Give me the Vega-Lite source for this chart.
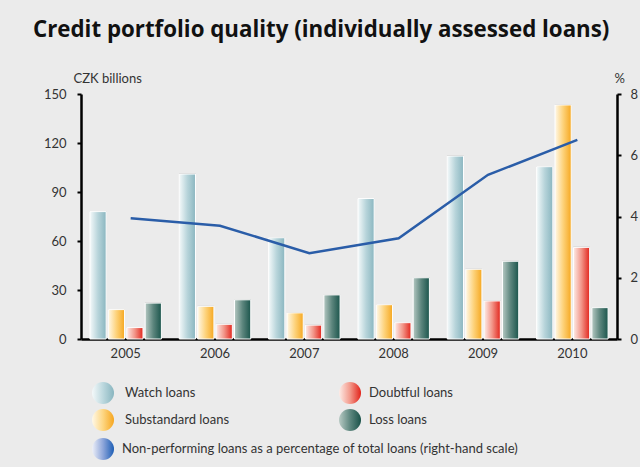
{
  "$schema": "https://vega.github.io/schema/vega-lite/v6.json",
  "width": 536,
  "height": 245,
  "autosize": {"type": "none"},
  "padding": {"left": 81, "top": 94, "right": 23, "bottom": 128},
  "background": "#ebebeb",
  "config": {
    "view": {"stroke": null},
    "font": "Lato",
    "axis": {"labelFont": "Lato", "labelFontSize": 13, "labelColor": "#333333", "titleFont": "Lato", "titleFontSize": 13, "titleFontWeight": "normal", "titleColor": "#333333", "grid": false, "domainColor": "#000000", "domainWidth": 2.5, "tickColor": "#000000", "tickWidth": 2},
    "legend": {"labelFont": "Lato", "labelFontSize": 13, "labelColor": "#333333", "title": null, "orient": "none", "symbolType": "circle", "symbolSize": 484, "symbolStrokeWidth": 0, "labelLimit": 500}
  },
  "title": {
    "text": "Credit portfolio quality (individually assessed loans)",
    "font": "Open Sans",
    "fontSize": 22.3,
    "fontWeight": "bold",
    "color": "#111111",
    "anchor": "start",
    "frame": "group",
    "dx": -48,
    "offset": 31
  },
  "datasets": {
    "bars": [
      {"year": "2005", "series": "Watch loans", "value": 78},
      {"year": "2005", "series": "Substandard loans", "value": 18},
      {"year": "2005", "series": "Doubtful loans", "value": 7},
      {"year": "2005", "series": "Loss loans", "value": 22},
      {"year": "2006", "series": "Watch loans", "value": 101},
      {"year": "2006", "series": "Substandard loans", "value": 20},
      {"year": "2006", "series": "Doubtful loans", "value": 9},
      {"year": "2006", "series": "Loss loans", "value": 24},
      {"year": "2007", "series": "Watch loans", "value": 62},
      {"year": "2007", "series": "Substandard loans", "value": 16},
      {"year": "2007", "series": "Doubtful loans", "value": 8.5},
      {"year": "2007", "series": "Loss loans", "value": 27},
      {"year": "2008", "series": "Watch loans", "value": 86},
      {"year": "2008", "series": "Substandard loans", "value": 21},
      {"year": "2008", "series": "Doubtful loans", "value": 10},
      {"year": "2008", "series": "Loss loans", "value": 37.5},
      {"year": "2009", "series": "Watch loans", "value": 112},
      {"year": "2009", "series": "Substandard loans", "value": 42.7},
      {"year": "2009", "series": "Doubtful loans", "value": 23.3},
      {"year": "2009", "series": "Loss loans", "value": 47.6},
      {"year": "2010", "series": "Watch loans", "value": 105.5},
      {"year": "2010", "series": "Substandard loans", "value": 143.3},
      {"year": "2010", "series": "Doubtful loans", "value": 56.1},
      {"year": "2010", "series": "Loss loans", "value": 19.2}
    ],
    "npl": [
      {"year": "2005", "label": "Non-performing loans as a percentage of total loans (right-hand scale)", "pct": 3.94},
      {"year": "2006", "label": "Non-performing loans as a percentage of total loans (right-hand scale)", "pct": 3.70},
      {"year": "2007", "label": "Non-performing loans as a percentage of total loans (right-hand scale)", "pct": 2.80},
      {"year": "2008", "label": "Non-performing loans as a percentage of total loans (right-hand scale)", "pct": 3.29},
      {"year": "2009", "label": "Non-performing loans as a percentage of total loans (right-hand scale)", "pct": 5.36},
      {"year": "2010", "label": "Non-performing loans as a percentage of total loans (right-hand scale)", "pct": 6.50}
    ]
  },
  "encoding": {
    "x": {
      "field": "year",
      "type": "nominal",
      "scale": {"paddingInner": 0.2, "paddingOuter": 0.1},
      "axis": {"title": null, "labelAngle": 0, "ticks": false, "labelPadding": 8, "domainWidth": 2.5}
    }
  },
  "layer": [
    {
      "data": {"name": "bars"},
      "mark": {"type": "bar", "fill": "#a3a3a3", "xOffset": 1.5, "yOffset": -0.5},
      "encoding": {
        "xOffset": {"field": "series", "type": "nominal", "scale": {"domain": ["Watch loans", "Substandard loans", "Doubtful loans", "Loss loans"], "paddingInner": 0.12}},
        "y": {"field": "value", "type": "quantitative", "scale": {"domain": [0, 150]}, "axis": null}
      }
    },
    {
      "data": {"name": "bars"},
      "transform": [{"filter": "datum.series === 'Watch loans'"}],
      "mark": {"type": "line", "strokeWidth": 0},
      "encoding": {
        "y": {"field": "value", "type": "quantitative", "scale": {"domain": [0, 150]}, "axis": null},
        "stroke": {
          "field": "series", "type": "nominal", "scale": {"range": ["#a9cbd2"]},
          "legend": {"legendX": 11, "legendY": 288, "labelOffset": 11,
            "encode": {"symbols": {"update": {"fill": {"value": {"gradient": "linear", "x1": 0, "y1": 0, "x2": 1, "y2": 0, "stops": [{"offset": 0, "color": "#f4f9fa"}, {"offset": 0.5, "color": "#bcd8de"}, {"offset": 1, "color": "#88b5bf"}]}}}}}}
        }
      }
    },
    {
      "data": {"name": "bars"},
      "transform": [{"filter": "datum.series === 'Doubtful loans'"}],
      "mark": {"type": "line", "strokeWidth": 0},
      "encoding": {
        "y": {"field": "value", "type": "quantitative", "scale": {"domain": [0, 150]}, "axis": null},
        "stroke": {
          "field": "series", "type": "nominal", "scale": {"range": ["#ec6b5e"]},
          "legend": {"legendX": 258, "legendY": 288, "labelOffset": 8,
            "encode": {"symbols": {"update": {"fill": {"value": {"gradient": "linear", "x1": 0, "y1": 0, "x2": 1, "y2": 0, "stops": [{"offset": 0, "color": "#fdece7"}, {"offset": 0.5, "color": "#f39a8c"}, {"offset": 1, "color": "#e2231a"}]}}}}}}
        }
      }
    },
    {
      "data": {"name": "bars"},
      "transform": [{"filter": "datum.series === 'Substandard loans'"}],
      "mark": {"type": "line", "strokeWidth": 0},
      "encoding": {
        "y": {"field": "value", "type": "quantitative", "scale": {"domain": [0, 150]}, "axis": null},
        "stroke": {
          "field": "series", "type": "nominal", "scale": {"range": ["#fbc35a"]},
          "legend": {"legendX": 11, "legendY": 315, "labelOffset": 11,
            "encode": {"symbols": {"update": {"fill": {"value": {"gradient": "linear", "x1": 0, "y1": 0, "x2": 1, "y2": 0, "stops": [{"offset": 0, "color": "#fff8e8"}, {"offset": 0.5, "color": "#fdd682"}, {"offset": 1, "color": "#f6a61f"}]}}}}}}
        }
      }
    },
    {
      "data": {"name": "bars"},
      "transform": [{"filter": "datum.series === 'Loss loans'"}],
      "mark": {"type": "line", "strokeWidth": 0},
      "encoding": {
        "y": {"field": "value", "type": "quantitative", "scale": {"domain": [0, 150]}, "axis": null},
        "stroke": {
          "field": "series", "type": "nominal", "scale": {"range": ["#3f7169"]},
          "legend": {"legendX": 258, "legendY": 315, "labelOffset": 8,
            "encode": {"symbols": {"update": {"fill": {"value": {"gradient": "linear", "x1": 0, "y1": 0, "x2": 1, "y2": 0, "stops": [{"offset": 0, "color": "#b8cac4"}, {"offset": 0.5, "color": "#5f8880"}, {"offset": 1, "color": "#1a5249"}]}}}}}}
        }
      }
    },
    {
      "data": {"name": "bars"},
      "mark": {"type": "bar", "stroke": "#ffffff", "strokeWidth": 1},
      "encoding": {
        "xOffset": {"field": "series", "type": "nominal", "scale": {"domain": ["Watch loans", "Substandard loans", "Doubtful loans", "Loss loans"], "paddingInner": 0.12}},
        "y": {
          "field": "value",
          "type": "quantitative",
          "scale": {"domain": [0, 150]},
          "axis": {"values": [0, 30, 60, 90, 120, 150], "title": "CZK billions", "titleAngle": 0, "titleAlign": "left", "titleBaseline": "alphabetic", "titleX": -8, "titleY": -12, "tickSize": 4, "labelPadding": 11}
        },
        "fill": {
          "condition": [
            {"test": "datum.series === 'Watch loans'", "value": {"gradient": "linear", "x1": 0, "y1": 0, "x2": 1, "y2": 0, "stops": [{"offset": 0, "color": "#f4f9fa"}, {"offset": 0.5, "color": "#b7d4da"}, {"offset": 1, "color": "#8ab6c0"}]}},
            {"test": "datum.series === 'Substandard loans'", "value": {"gradient": "linear", "x1": 0, "y1": 0, "x2": 1, "y2": 0, "stops": [{"offset": 0, "color": "#fff8e8"}, {"offset": 0.5, "color": "#fdd27a"}, {"offset": 1, "color": "#f6a821"}]}},
            {"test": "datum.series === 'Doubtful loans'", "value": {"gradient": "linear", "x1": 0, "y1": 0, "x2": 1, "y2": 0, "stops": [{"offset": 0, "color": "#fdece7"}, {"offset": 0.5, "color": "#f29487"}, {"offset": 1, "color": "#e2261d"}]}}
          ],
          "value": {"gradient": "linear", "x1": 0, "y1": 0, "x2": 1, "y2": 0, "stops": [{"offset": 0, "color": "#b5c8c2"}, {"offset": 0.5, "color": "#5c857d"}, {"offset": 1, "color": "#1b554c"}]}
        }
      }
    },
    {
      "data": {"name": "npl"},
      "mark": {"type": "line", "strokeWidth": 2.5},
      "encoding": {
        "x": {"field": "year", "type": "nominal", "bandPosition": 0.57},
        "y": {
          "field": "pct",
          "type": "quantitative",
          "scale": {"domain": [0, 8]},
          "axis": {"orient": "right", "values": [0, 2, 4, 6, 8], "title": "%", "titleAngle": 0, "titleAlign": "left", "titleBaseline": "alphabetic", "titleX": -3, "titleY": -12, "tickSize": 4, "labelPadding": 9}
        },
        "stroke": {
          "field": "label",
          "type": "nominal",
          "scale": {"range": ["#2a5da8"]},
          "legend": {
            "legendX": 11,
            "legendY": 344,
            "labelOffset": 8,
            "encode": {
              "symbols": {
                "update": {
                  "fill": {"value": {"gradient": "linear", "x1": 0, "y1": 0, "x2": 1, "y2": 0, "stops": [{"offset": 0, "color": "#eef0f8"}, {"offset": 0.5, "color": "#8ea6da"}, {"offset": 1, "color": "#1d5eb5"}]}}
                }
              }
            }
          }
        }
      }
    }
  ],
  "resolve": {"scale": {"y": "independent", "stroke": "independent"}}
}
